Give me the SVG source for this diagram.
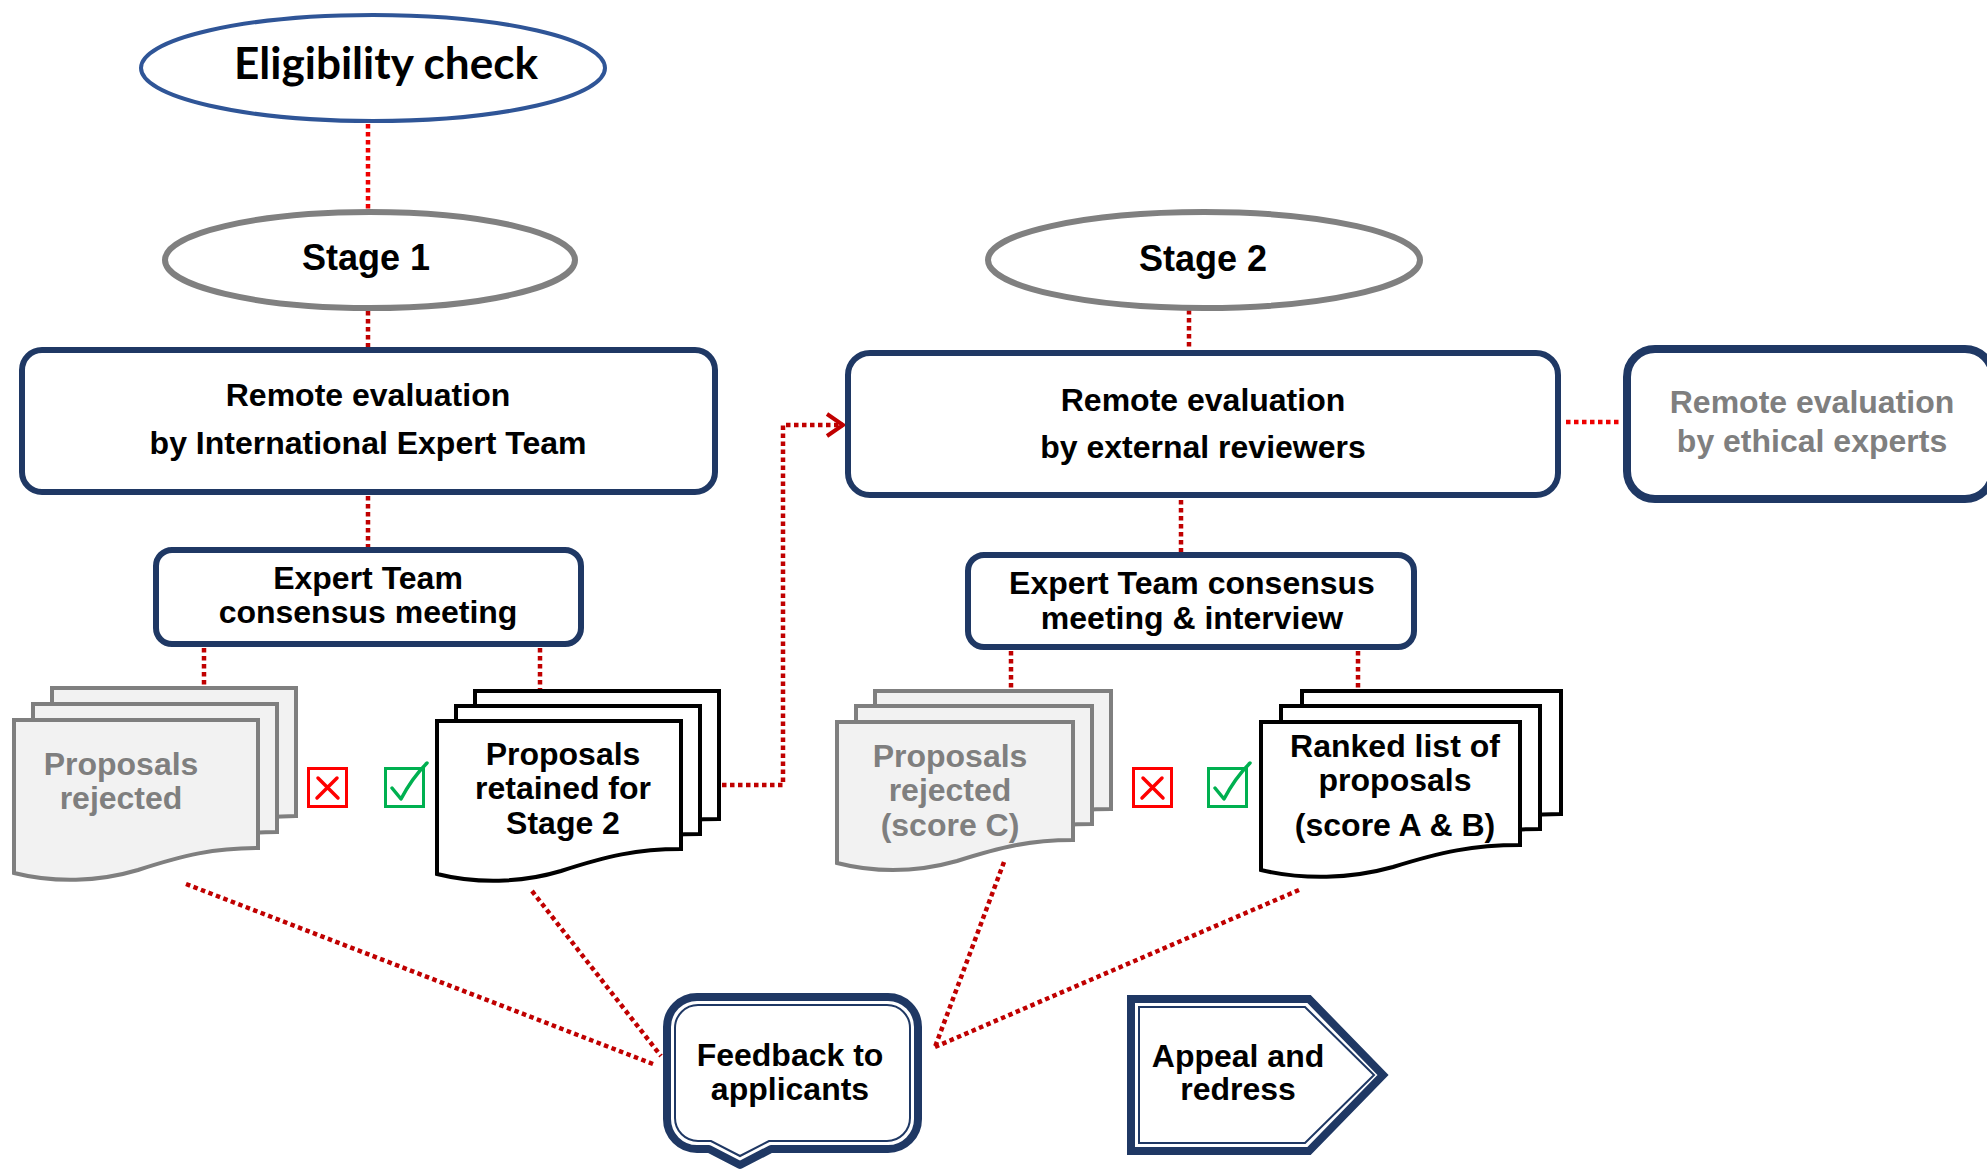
<svg xmlns="http://www.w3.org/2000/svg" xmlns:xlink="http://www.w3.org/1999/xlink" width="1987" height="1170" viewBox="0 0 1987 1170">
<style>
text{font-family:"Liberation Sans",Arial,sans-serif;font-weight:bold;font-size:32px;text-anchor:middle;fill:#000}
.gray{fill:#7F7F7F}
.sm{font-size:30px}
.box{fill:#fff;stroke:#1F3864;stroke-width:6}
.stage{fill:#fff;stroke:#808080;stroke-width:6}
.docg{fill:#F2F2F2;stroke:#7F7F7F;stroke-width:4;stroke-linejoin:miter}
.docb{fill:#fff;stroke:#000;stroke-width:4;stroke-linejoin:miter}
.dot{fill:none;stroke:#C00000;stroke-width:4.5;stroke-dasharray:4.5 3.5}
.dotb{fill:none;stroke:#EE0000;stroke-width:4.5;stroke-dasharray:4.5 3.5}
.thick{fill:#fff;stroke:#1F3864;stroke-width:8;stroke-linejoin:round}
.thin{fill:none;stroke:#1F3864;stroke-width:2}
</style>
<defs>
<path id="doc" d="M0 0 H244 V128 C200 128 170 135 124 150 C84 162 40 163 0 153 Z"/>
<path id="docS" d="M0 0 H236 V118 C193 118 164 125 120 139 C81 150 39 151 0 141 Z"/>
<path id="docL" d="M0 0 H259 V123 C212 123 180 130 132 145 C89 157 42 158 0 148 Z"/>
<marker id="chev" markerUnits="userSpaceOnUse" markerWidth="24" markerHeight="28" refX="18" refY="12" orient="auto" overflow="visible">
<path d="M2 1 L18 12 L2 23" fill="none" stroke="#C00000" stroke-width="4"/>
</marker>
</defs>
<rect width="1987" height="1170" fill="#fff"/>

<g id="connectors">
<path class="dotb" d="M368 124 V210"/>
<path class="dot" d="M368 311 V348"/>
<path class="dot" d="M368 496 V547"/>
<path class="dot" d="M204 648 V686"/>
<path class="dot" d="M540 648 V689"/>
<path class="dot" d="M722 785 H783 V425 H843" marker-end="url(#chev)"/>
<path class="dot" d="M1189 310 V350"/>
<path class="dot" d="M1181 500 V552"/>
<path class="dot" d="M1011 651 V689"/>
<path class="dot" d="M1358 651 V690"/>
<path class="dotb" d="M1566 422 H1621"/>
<path class="dot" d="M186 884 L653 1064"/>
<path class="dot" d="M532 891 L661 1056"/>
<path class="dot" d="M1004 862 L935 1047"/>
<path class="dot" d="M1299 890 L935 1047"/>
</g>

<g id="eligibility">
<ellipse cx="373" cy="68" rx="232" ry="53" fill="#fff" stroke="#2F5597" stroke-width="4"/>
<text x="386" y="79" style="font-family:Lato,'Liberation Sans',sans-serif;font-size:44px" textLength="304" lengthAdjust="spacingAndGlyphs">Eligibility check</text>
</g>

<g id="stage1">
<ellipse class="stage" cx="370" cy="260" rx="205" ry="48"/>
<text x="366" y="270" style="font-size:36px">Stage 1</text>
</g>

<g id="remote-ie">
<rect class="box" x="22" y="350" width="693" height="142" rx="20"/>
<text x="368" y="406">Remote evaluation</text>
<text x="368" y="454">by International Expert Team</text>
</g>

<g id="meeting1">
<rect class="box" x="156" y="550" width="425" height="94" rx="16"/>
<text x="368" y="589">Expert Team</text>
<text x="368" y="623">consensus meeting</text>
</g>

<g id="rejected1">
<use href="#doc" class="docg" transform="translate(52 688)"/>
<use href="#doc" class="docg" transform="translate(33 704)"/>
<use href="#doc" class="docg" transform="translate(14 720)"/>
<text class="gray" x="121" y="775">Proposals</text>
<text class="gray" x="121" y="809">rejected</text>
</g>

<g id="marks1">
<rect x="308.5" y="768.5" width="38" height="38" fill="#fff" stroke="#FF0000" stroke-width="3"/>
<path d="M318 778 Q327 787 338 798 M337 778 Q328 787 317 798" fill="none" stroke="#FF0000" stroke-width="3.5" stroke-linecap="round"/>
<rect x="385.5" y="768.5" width="38" height="38" fill="#fff" stroke="#00B050" stroke-width="3"/>
<path d="M392 788 L401 799 Q412 778 427 763" fill="none" stroke="#00B050" stroke-width="3.5" stroke-linecap="round" stroke-linejoin="round"/>
</g>

<g id="retained">
<use href="#doc" class="docb" transform="translate(475 691)"/>
<use href="#doc" class="docb" transform="translate(456 706)"/>
<use href="#doc" class="docb" transform="translate(437 721)"/>
<text x="563" y="765">Proposals</text>
<text x="563" y="799">retained for</text>
<text x="563" y="834">Stage 2</text>
</g>

<g id="stage2">
<ellipse class="stage" cx="1204" cy="260" rx="216" ry="48"/>
<text x="1203" y="271" style="font-size:36px">Stage 2</text>
</g>

<g id="remote-ext">
<rect class="box" x="848" y="353" width="710" height="142" rx="22"/>
<text x="1203" y="411">Remote evaluation</text>
<text x="1203" y="458">by external reviewers</text>
</g>

<g id="remote-eth">
<rect x="1627" y="349" width="366" height="150" rx="28" fill="#fff" stroke="#1F3864" stroke-width="8"/>
<text class="gray" x="1812" y="413">Remote evaluation</text>
<text class="gray" x="1812" y="452">by ethical experts</text>
</g>

<g id="meeting2">
<rect class="box" x="968" y="555" width="446" height="92" rx="16"/>
<text x="1192" y="594">Expert Team consensus</text>
<text x="1192" y="629">meeting &amp; interview</text>
</g>

<g id="rejected2">
<use href="#docS" class="docg" transform="translate(875 691)"/>
<use href="#docS" class="docg" transform="translate(856 706)"/>
<use href="#docS" class="docg" transform="translate(837 722)"/>
<text class="gray" x="950" y="767">Proposals</text>
<text class="gray" x="950" y="801">rejected</text>
<text class="gray" x="950" y="836">(score C)</text>
</g>

<g id="marks2">
<rect x="1133.5" y="768.5" width="38" height="38" fill="#fff" stroke="#FF0000" stroke-width="3"/>
<path d="M1143 778 Q1152 787 1163 798 M1162 778 Q1153 787 1142 798" fill="none" stroke="#FF0000" stroke-width="3.5" stroke-linecap="round"/>
<rect x="1208.5" y="768.5" width="38" height="38" fill="#fff" stroke="#00B050" stroke-width="3"/>
<path d="M1215 788 L1224 799 Q1235 778 1250 763" fill="none" stroke="#00B050" stroke-width="3.5" stroke-linecap="round" stroke-linejoin="round"/>
</g>

<g id="ranked">
<use href="#docL" class="docb" transform="translate(1302 691)"/>
<use href="#docL" class="docb" transform="translate(1281 706)"/>
<use href="#docL" class="docb" transform="translate(1261 722)"/>
<text x="1395" y="757">Ranked list of</text>
<text x="1395" y="791">proposals</text>
<text x="1395" y="836">(score A &amp; B)</text>
</g>

<g id="feedback">
<path class="thick" d="M697 997 H888 A30 30 0 0 1 918 1027 V1119 A30 30 0 0 1 888 1149 H771 L740 1165 L709 1149 H697 A30 30 0 0 1 667 1119 V1027 A30 30 0 0 1 697 997 Z"/>
<path class="thin" d="M698 1005 H887 A23 23 0 0 1 910 1028 V1118 A23 23 0 0 1 887 1141 H769 L740 1156 L711 1141 H698 A23 23 0 0 1 675 1118 V1028 A23 23 0 0 1 698 1005 Z"/>
<text x="790" y="1066">Feedback to</text>
<text x="790" y="1100">applicants</text>
</g>

<g id="appeal">
<path class="thick" d="M1131 999 H1309 L1383 1075 L1309 1151 H1131 Z" style="stroke-linejoin:miter"/>
<path class="thin" d="M1139 1007 H1305 L1374 1075 L1305 1143 H1139 Z"/>
<text x="1238" y="1067">Appeal and</text>
<text x="1238" y="1100">redress</text>
</g>
</svg>
